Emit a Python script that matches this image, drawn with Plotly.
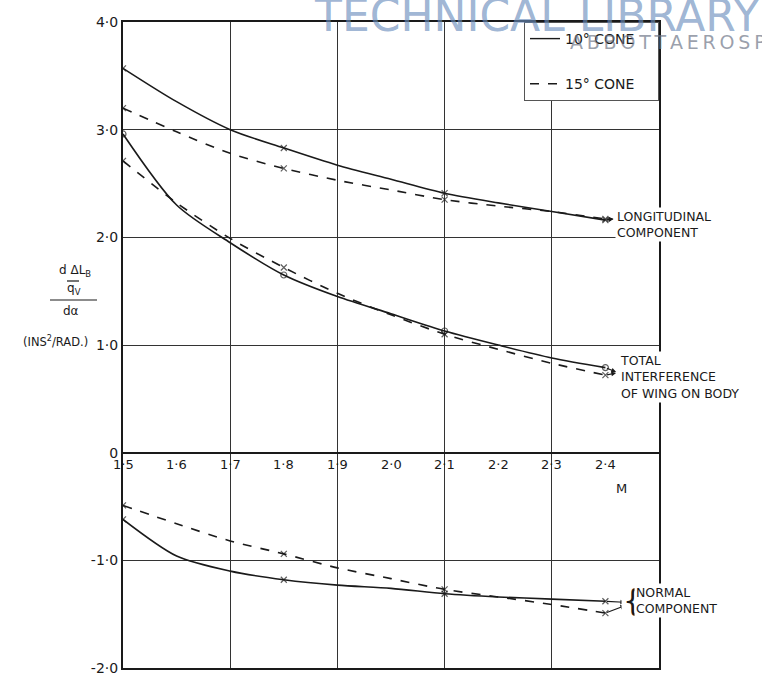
import plotly.graph_objects as go

# ---------------------------------------------------
# Data
# ---------------------------------------------------

mach = [1.5, 1.6, 1.7, 1.8, 1.9, 2.0, 2.1, 2.2, 2.3, 2.4]
measured_mach = [1.5, 1.8, 2.1, 2.4]

long_10 = [3.57, 3.26, 3.00, 2.83, 2.67, 2.54, 2.41, 2.32, 2.24, 2.16]
long_15 = [3.20, 2.98, 2.78, 2.64, 2.53, 2.44, 2.35, 2.29, 2.24, 2.17]

total_10 = [2.96, 2.30, 1.95, 1.65, 1.45, 1.29, 1.13, 1.00, 0.88, 0.79]
total_15 = [2.71, 2.32, 1.99, 1.72, 1.48, 1.28, 1.10, 0.96, 0.83, 0.72]

normal_10 = [-0.62, -0.96, -1.10, -1.18, -1.23, -1.26, -1.31, -1.34, -1.36, -1.38]
normal_15 = [-0.49, -0.66, -0.82, -0.94, -1.07, -1.17, -1.27, -1.34, -1.41, -1.49]

x_ticks = [1.5, 1.6, 1.7, 1.8, 1.9, 2.0, 2.1, 2.2, 2.3, 2.4]
x_tick_text = ["1·5", "1·6", "1·7", "1·8", "1·9", "2·0", "2·1", "2·2", "2·3", "2·4"]
y_ticks = [-2, -1, 0, 1, 2, 3, 4]
y_tick_text = ["-2·0", "-1·0", "0", "1·0", "2·0", "3·0", "4·0"]

FONT = "DejaVu Sans"
INK = "#1a1a1a"

# plot area in pixels (used for paper-coordinate text placement)
L, R, T, B = 123, 659, 22, 668


def px(x):
    return (x - L) / (R - L)


def py(y):
    return (B - y) / (B - T)


marker_sizes = [6 if m in measured_mach else 0 for m in mach]

fig = go.Figure()


def add_curve(y, dash, symbol):
    fig.add_trace(go.Scatter(
        x=mach, y=y,
        mode="lines+markers",
        line=dict(color=INK, width=1.6, dash=dash, shape="spline", smoothing=0.8),
        marker=dict(size=marker_sizes, symbol=symbol, color=INK,
                    line=dict(color=INK, width=1.2)),
        showlegend=False,
    ))


add_curve(long_10, "solid", "x-thin")
add_curve(long_15, "dash", "x-thin")
add_curve(total_10, "solid", "circle-open")
add_curve(total_15, "dash", "x-thin")
add_curve(normal_10, "solid", "x-thin")
add_curve(normal_15, "dash", "x-thin")

# legend keys only
pad = "\u00a0" * 4
for name, dash in [("10° CONE", "solid"), ("15° CONE", "dash")]:
    fig.add_trace(go.Scatter(
        x=[None], y=[None], mode="lines", name=name + pad,
        line=dict(color=INK, width=1.4, dash=dash), legendgroup=name,
    ))

annotations = []

# x tick labels sit on the zero line
for v, t in zip(x_ticks, x_tick_text):
    annotations.append(dict(x=v, y=0, xref="x", yref="y", text=t, showarrow=False,
                            xanchor="center", yanchor="top", yshift=-2,
                            font=dict(size=13, color=INK, family=FONT)))

annotations.append(dict(x=2.43, y=-0.33, xref="x", yref="y", text="M", showarrow=False,
                        xanchor="center", yanchor="middle",
                        font=dict(size=13, color=INK, family=FONT)))

# arrows from curve ends to labels
end = len(mach) - 1
arrow_specs = [
    (long_15[end], 2.415, long_15[end]),
    (long_10[end], 2.415, long_15[end]),
    (total_10[end], 2.42, total_10[end] - 0.04),
    (total_15[end], 2.42, total_15[end] + 0.02),
    (normal_10[end], 2.437, normal_10[end] - 0.01),
    (normal_15[end], 2.437, normal_10[end] - 0.04),
]
for y0, xh, yh in arrow_specs:
    annotations.append(dict(x=xh, y=yh, ax=mach[end], ay=y0, xref="x", yref="y",
                            axref="x", ayref="y", text="", showarrow=True,
                            arrowhead=2, arrowsize=0.8, arrowwidth=1.2, arrowcolor=INK))


def note(x, y, text, size=12.5, xanchor="left", bg=None, color=INK, align="left"):
    d = dict(x=px(x), y=py(y), xref="paper", yref="paper", xanchor=xanchor,
             yanchor="middle", text=text, align=align, showarrow=False,
             font=dict(size=size, color=color, family=FONT))
    if bg:
        d["bgcolor"] = bg
    return d


annotations += [
    note(615, 225, "LONGITUDINAL<br>COMPONENT", bg="white"),
    note(618, 377, "TOTAL<br>INTERFERENCE<br>OF WING ON BODY", bg="white"),
    note(621, 600, "{", size=30, bg="white"),
    note(634, 600, "NORMAL<br>COMPONENT", bg="white"),
]

# y axis title, stacked like the hand lettering
annotations += [
    note(75, 271, "d ΔL<sub>B</sub>", size=12, xanchor="center"),
    note(74, 289, "q<sub>V</sub>", size=12, xanchor="center"),
    note(71, 311, "dα", size=12, xanchor="center"),
    note(55, 341, "(INS<sup>2</sup>/RAD.)", size=11.5, xanchor="center"),
]

# watermark
thin = "\u2009"
annotations += [
    note(312, 15, "TECHNICAL LIBRARY", size=44, color="rgba(105,140,188,0.65)"),
    note(568, 42, thin.join("ABBOTTAEROSPACE.COM"), size=19, color="rgba(110,118,135,0.7)"),
]

shapes = [
    dict(type="line", xref="paper", yref="paper", x0=px(67), x1=px(79), y0=py(281), y1=py(281),
         line=dict(color=INK, width=1.2)),
    dict(type="line", xref="paper", yref="paper", x0=px(50), x1=px(97), y0=py(300), y1=py(300),
         line=dict(color=INK, width=1.2)),
]

fig.update_layout(
    width=762,
    height=676,
    margin=dict(l=L, r=762 - R, t=T, b=676 - B),
    paper_bgcolor="white",
    plot_bgcolor="white",
    font=dict(family=FONT, color=INK),
    annotations=annotations,
    shapes=shapes,
    legend=dict(
        x=1, y=1, xanchor="right", yanchor="top",
        bgcolor="white", bordercolor="#555", borderwidth=1,
        font=dict(size=14, color=INK, family=FONT),
        tracegroupgap=24, itemwidth=30,
    ),
    xaxis=dict(
        range=[1.5, 2.5], dtick=0.2, tick0=1.5,
        showgrid=True, gridcolor="#333", gridwidth=1.2,
        showticklabels=False, zeroline=False, automargin=False,
        showline=True, linecolor=INK, linewidth=1.5, mirror=True,
    ),
    yaxis=dict(
        range=[-2, 4], tickvals=y_ticks, ticktext=y_tick_text,
        showgrid=True, gridcolor="#333", gridwidth=1.2,
        zeroline=True, zerolinecolor=INK, zerolinewidth=2.2, automargin=False,
        showline=True, linecolor=INK, linewidth=2, mirror=True,
        ticks="", tickfont=dict(size=14, color=INK, family=FONT),
    ),
)

# page body has a default 8px margin; drop it so the figure sits at the top-left
fig.write_html("out.html", config={"displayModeBar": False},
               post_script="document.body.style.margin='0px';")
